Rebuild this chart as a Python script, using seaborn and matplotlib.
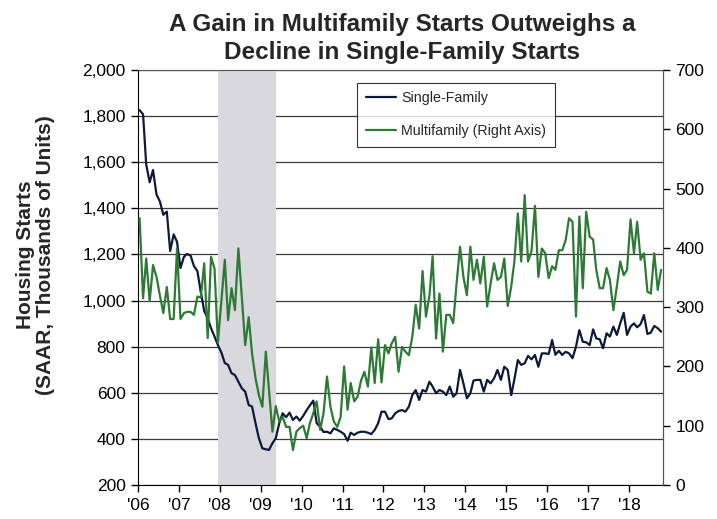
import pandas as pd
import numpy as np
import matplotlib.pyplot as plt
import matplotlib.ticker as mticker
import seaborn as sns

# Monthly housing starts, SAAR, thousands of units (Jan 2006 - Oct 2018)
single_family = [
    1826, 1808, 1590, 1513, 1566, 1460, 1430, 1372, 1386, 1215, 1287, 1255,  # 2006
    1141, 1190, 1202, 1195, 1150, 1128, 1038, 955, 923, 880, 844, 807,      # 2007
    775, 729, 721, 685, 677, 648, 620, 605, 547, 540, 468, 403,             # 2008
    359, 355, 352, 381, 403, 468, 511, 494, 514, 482, 497, 479,             # 2009
    500, 525, 545, 566, 468, 453, 430, 431, 424, 446, 439, 431,             # 2010
    421, 392, 427, 417, 427, 431, 431, 427, 421, 439, 468, 518,             # 2011
    518, 486, 489, 511, 521, 525, 518, 540, 590, 612, 569, 612,             # 2012
    605, 648, 627, 598, 612, 605, 590, 627, 583, 598, 699, 641,             # 2013
    576, 598, 653, 656, 656, 605, 656, 641, 663, 699, 656, 713,             # 2014
    699, 590, 658, 742, 721, 728, 760, 745, 764, 713, 771, 771,             # 2015
    768, 829, 765, 782, 764, 778, 771, 750, 800, 872, 821, 819,             # 2016
    807, 875, 836, 832, 793, 858, 844, 887, 851, 901, 947, 851,             # 2017
    887, 901, 884, 898, 937, 855, 861, 890, 880, 865,                       # 2018
]
multifamily = [
    450, 315, 382, 310, 371, 351, 320, 290, 334, 280, 280, 399,  # 2006
    280, 290, 292, 292, 287, 318, 316, 374, 248, 385, 365, 240,  # 2007
    310, 380, 278, 332, 295, 399, 318, 236, 283, 222, 180, 152,  # 2008
    132, 225, 160, 90, 133, 107, 115, 98, 98, 59, 90, 96,        # 2009
    100, 79, 104, 121, 141, 93, 121, 183, 132, 107, 98, 115,     # 2010
    200, 127, 172, 141, 149, 176, 191, 166, 232, 172, 246, 173,  # 2011
    236, 222, 239, 250, 191, 233, 225, 219, 250, 304, 264, 361,  # 2012
    284, 320, 386, 247, 323, 225, 287, 287, 273, 340, 402, 351,  # 2013
    320, 402, 346, 380, 340, 385, 301, 340, 374, 346, 351, 382,  # 2014
    302, 335, 377, 458, 377, 489, 377, 395, 471, 351, 399, 391,  # 2015
    349, 369, 363, 396, 396, 413, 450, 444, 284, 453, 332, 461,  # 2016
    419, 414, 363, 332, 332, 366, 346, 295, 335, 377, 354, 363,  # 2017
    448, 391, 444, 380, 391, 326, 323, 391, 329, 363,            # 2018
]
start_month = '2006-01-01'
recession_start = '2007-12-15'
recession_end = '2009-05-15'
years = list(range(2006, 2019))
year_labels = ["'%02d" % (y % 100) for y in years]

navy = '#0c1a3a'
green = '#2d7a35'

sns.set_style('ticks')
plt.rcParams['font.family'] = ['Liberation Sans', 'DejaVu Sans']

months = pd.date_range(start_month, periods=len(single_family), freq='MS') + pd.Timedelta(days=14)
df = pd.DataFrame({'date': months, 'single': single_family, 'multi': multifamily})

fig = plt.figure(figsize=(7.17, 5.19), dpi=100)
ax = fig.add_axes([0.1925, 0.0655, 0.7322, 0.7996])
ax2 = ax.twinx()

# recession shading and grid
ax.axvspan(pd.Timestamp(recession_start), pd.Timestamp(recession_end),
           color='#d9d8de', zorder=1, lw=0)
ax.set_axisbelow(True)
ax.yaxis.grid(True, color='#3a3a3a', lw=0.9)

sns.lineplot(data=df, x='date', y='single', ax=ax, color=navy, lw=1.6,
             label='Single-Family', legend=False, zorder=3)
sns.lineplot(data=df, x='date', y='multi', ax=ax2, color=green, lw=1.6,
             label='Multifamily (Right Axis)', legend=False, zorder=3)

ax.set_xlim(pd.Timestamp('2006-01-01'), pd.Timestamp('2018-11-01'))
ax.set_ylim(200, 2000)
ax.set_yticks(range(200, 2001, 200))
ax.yaxis.set_major_formatter(mticker.FuncFormatter(lambda v, p: f'{v:,.0f}'))
ax2.set_ylim(0, 700)
ax2.set_yticks(range(0, 701, 100))

ax.set_xticks([pd.Timestamp(f'{y}-01-01') for y in years])
ax.set_xticklabels(year_labels)

ax.set_xlabel('')
ax.set_ylabel('')
ax2.set_ylabel('')

for a in (ax, ax2):
    a.tick_params(labelsize=12.5, length=5, width=1, colors='black', pad=4)
ax.spines['left'].set_color('black')
ax.spines['bottom'].set_color('black')
ax.spines['top'].set_color('#555555')
ax2.spines['top'].set_visible(False)
ax2.spines['right'].set_color('#555555')
ax2.spines['left'].set_visible(False)
ax2.spines['bottom'].set_visible(False)

fig.text(0.05, 0.509, 'Housing Starts\n(SAAR, Thousands of Units)', rotation=90,
         ha='center', va='center', multialignment='center',
         fontsize=15, fontweight='bold', linespacing=1.08)

fig.text(0.561, 0.925, 'A Gain in Multifamily Starts Outweighs a\nDecline in Single-Family Starts',
         ha='center', va='center', fontsize=17.5, fontweight='bold', linespacing=1.28)

h1, l1 = ax.get_legend_handles_labels()
h2, l2 = ax2.get_legend_handles_labels()
leg = ax2.legend(h1 + h2, l1 + l2, loc='upper left', bbox_to_anchor=(0.417, 0.969),
                 borderaxespad=0, fontsize=10.3, frameon=True, fancybox=False,
                 edgecolor='black', handlelength=2.1, handletextpad=0.4,
                 borderpad=0.6, labelspacing=1.3)
leg.get_frame().set_linewidth(0.8)

fig.savefig('out.png', dpi=100)
